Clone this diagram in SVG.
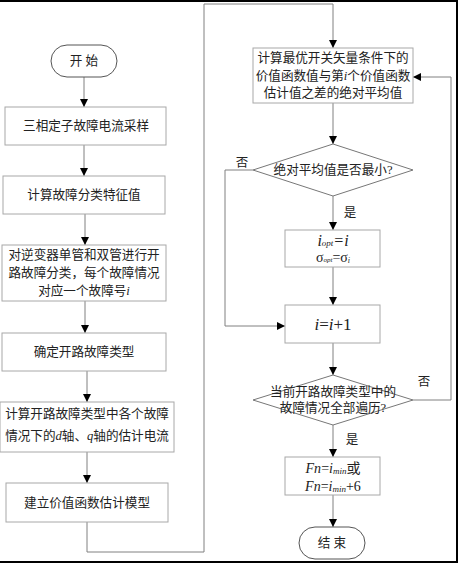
<svg xmlns="http://www.w3.org/2000/svg" width="458" height="563" viewBox="0 0 458 563">
<defs>
<marker id="ah" markerWidth="8" markerHeight="10" refX="8" refY="5" orient="auto" markerUnits="userSpaceOnUse">
<path d="M0,1 L8,5 L0,9 Z" fill="#000"/>
</marker>
<style>
.box{fill:#fff;stroke:#a8a8a8;stroke-width:1}
.term{fill:#fff;stroke:#555;stroke-width:1}
.dia{fill:#fff;stroke:#777;stroke-width:1}
.ln{fill:none;stroke:#808080;stroke-width:1}
.ar{fill:none;stroke:#808080;stroke-width:1;marker-end:url(#ah)}
text{font-family:"Liberation Serif","Noto Sans CJK SC",serif;font-size:12.6px;fill:#222;text-anchor:middle;dominant-baseline:central}
.it{font-style:italic}
.lb{font-size:12.5px}
.m16{font-size:16px}
.m14{font-size:14px}
.m17{font-size:17px}
</style>
</defs>
<rect x="0" y="0" width="458" height="563" fill="#fff"/>
<rect x="0" y="0" width="458" height="2" fill="#000"/>
<rect x="456" y="0" width="2" height="563" fill="#000"/>
<rect x="0" y="561" width="458" height="2" fill="#000"/>

<g id="connectors">
<line class="ar" x1="84" y1="77" x2="84" y2="107"/>
<line class="ar" x1="84" y1="145" x2="84" y2="176"/>
<line class="ar" x1="85" y1="214" x2="85" y2="245"/>
<line class="ar" x1="85" y1="301" x2="85" y2="333"/>
<line class="ar" x1="87" y1="371" x2="87" y2="402"/>
<line class="ar" x1="87" y1="452" x2="87" y2="483"/>
<polyline class="ar" points="87,522 87,552 204,552 204,4 333,4 333,48"/>
<line class="ar" x1="333" y1="103" x2="333" y2="144"/>
<line class="ar" x1="333" y1="196" x2="333" y2="230"/>
<line class="ar" x1="333" y1="267" x2="333" y2="305"/>
<line class="ar" x1="333" y1="343" x2="333" y2="375"/>
<line class="ar" x1="333" y1="425" x2="333" y2="457"/>
<line class="ar" x1="333" y1="495" x2="333" y2="527"/>
<polyline class="ar" points="253,170 225,170 225,326 285,326"/>
<polyline class="ar" points="413,400 451,400 451,77 413,77"/>
<text class="lb" x="242" y="163">否</text>
<text class="lb" x="350" y="213">是</text>
<text class="lb" x="424" y="382">否</text>
<text class="lb" x="352" y="440">是</text>
</g>

<g id="start">
<rect class="term" x="51" y="45" width="66" height="32" rx="16" ry="16"/>
<text x="84" y="61">开  始</text>
</g>
<g id="sample">
<rect class="box" x="5" y="107" width="161" height="38"/>
<text x="86" y="126">三相定子故障电流采样</text>
</g>
<g id="feature">
<rect class="box" x="3" y="176" width="162" height="38"/>
<text x="84" y="195">计算故障分类特征值</text>
</g>
<g id="classify">
<rect class="box" x="2" y="245" width="164" height="56"/>
<text x="84" y="255">对逆变器单管和双管进行开</text>
<text x="84" y="273">路故障分类，每个故障情况</text>
<text x="84" y="291">对应一个故障号<tspan class="it">i</tspan></text>
</g>
<g id="type">
<rect class="box" x="2" y="333" width="164" height="38"/>
<text x="84" y="352">确定开路故障类型</text>
</g>
<g id="estimate">
<rect class="box" x="0" y="402" width="174" height="50"/>
<text x="87" y="414">计算开路故障类型中各个故障</text>
<text x="87" y="436">情况下的<tspan class="it">d</tspan>轴、<tspan class="it">q</tspan>轴的估计电流</text>
</g>
<g id="model">
<rect class="box" x="6" y="483" width="162" height="39"/>
<text x="87" y="503">建立价值函数估计模型</text>
</g>
<g id="calc">
<rect class="box" x="253" y="48" width="160" height="55"/>
<text x="333" y="58">计算最优开关矢量条件下的</text>
<text x="333" y="76">价值函数值与第<tspan class="it">i</tspan>个价值函数</text>
<text x="333" y="93">估计值之差的绝对平均值</text>
</g>
<g id="decision1">
<polygon class="dia" points="333,144 413,170 333,196 253,170"/>
<text x="333" y="170">绝对平均值是否最小?</text>
</g>
<g id="update">
<rect class="box" x="285" y="230" width="95" height="37"/>
<text class="m16" x="333" y="240"><tspan class="it">i</tspan><tspan class="it" font-size="9" dy="3">opt</tspan><tspan class="it" dy="-3">=i</tspan></text>
<text class="m14" x="333" y="257">σ<tspan class="it" font-size="7" dy="3">opt</tspan><tspan dy="-3">=σ</tspan><tspan class="it" font-size="8" dy="3">i</tspan></text>
</g>
<g id="increment">
<rect class="box" x="285" y="305" width="95" height="38"/>
<text class="m17" x="333" y="324"><tspan class="it">i</tspan>=<tspan class="it">i</tspan>+1</text>
</g>
<g id="decision2">
<polygon class="dia" points="333,375 413,400 333,425 253,400"/>
<text x="333" y="392">当前开路故障类型中的</text>
<text x="333" y="408">故障情况全部遍历?</text>
</g>
<g id="result">
<rect class="box" x="285" y="457" width="95" height="38"/>
<text class="m14" x="333" y="468"><tspan class="it">Fn</tspan>=<tspan class="it">i</tspan><tspan class="it" font-size="9" dy="3">min</tspan><tspan dy="-3">或</tspan></text>
<text class="m14" x="333" y="486"><tspan class="it">Fn</tspan>=<tspan class="it">i</tspan><tspan class="it" font-size="9" dy="3">min</tspan><tspan dy="-3">+6</tspan></text>
</g>
<g id="end">
<rect class="term" x="299" y="527" width="66" height="32" rx="16" ry="16"/>
<text x="332" y="543">结  束</text>
</g>
</svg>
